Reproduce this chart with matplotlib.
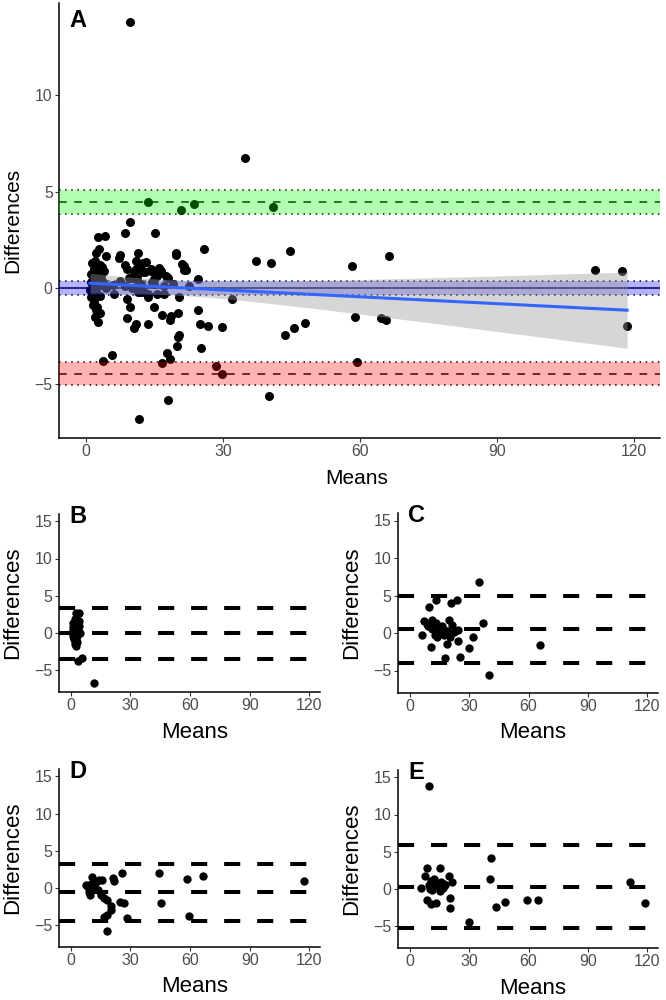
import numpy as np
import matplotlib
matplotlib.use("Agg")
import matplotlib.pyplot as plt

plt.rcParams['font.family'] = ['Liberation Sans', 'DejaVu Sans']

# ---------------- data ----------------
B_means = [2.7, 4.2, 2.3, 4.4, 2.0, 3.0, 1.8, 2.5, 3.5, 1.2, 2.1, 3.2, 1.0, 1.6, 2.6, 3.8, 0.9, 1.4,
           2.2, 3.0, 1.0, 1.8, 1.5, 2.4, 2.3, 3.0, 2.7, 2.0, 3.8, 5.7, 11.6, 1.3, 2.8, 4.0, 4.5]
B_diffs = [2.64, 2.67, 1.8, 1.63, 1.4, 1.2, 1.0, 0.9, 1.1, 0.7, 0.5, 0.6, 0.3, 0.2, 0.1, 0.3, -0.1, -0.3,
           -0.2, -0.4, -0.5, -0.7, -0.89, -1.0, -1.15, -1.3, -1.79, -1.5, -3.8, -3.47, -6.8, 1.3, 2.0, 0.9, 0.0]

C_means = [34.8, 13.5, 20.8, 23.7, 9.6, 37.2, 7.3, 11.5, 13.2, 19.8, 21.5, 14.8, 19.0, 24.5, 6.2, 12.8,
           11.0, 18.7, 24.5, 32.0, 29.9, 17.8, 25.3, 40.0, 65.7, 9.0, 10.5, 12.0, 14.2, 15.6, 16.5, 17.2,
           13.6, 15.0, 20.3, 11.2, 8.5, 22.5]
C_diffs = [6.77, 4.46, 4.06, 4.37, 3.42, 1.37, 1.56, 1.79, 1.34, 1.79, 1.12, 0.44, 0.22, 0.44, -0.32, -0.23,
           -1.88, -1.44, -1.13, -0.59, -2.02, -3.36, -3.14, -5.6, -1.66, 1.0, 0.8, 1.2, 0.9, 0.6, 0.9, -0.3,
           -0.5, 0.2, -0.5, 0.5, 1.2, 0.1]

D_means = [25.9, 44.6, 58.2, 66.4, 21.9, 21.0, 10.9, 15.9, 7.5, 9.7, 15.0, 16.7, 18.4, 20.4, 20.0, 25.0,
           26.7, 45.6, 16.7, 18.4, 28.4, 59.3, 18.0, 117.3, 8.5, 10.0, 11.5, 12.5, 13.5, 9.0, 12.0, 14.2]
D_diffs = [2.03, 1.94, 1.15, 1.63, 0.94, 1.25, 1.4, 1.04, 0.36, -0.99, -1.0, -1.43, -1.66, -2.47, -3.0, -1.9,
           -2.0, -2.08, -3.9, -3.7, -4.05, -3.87, -5.8, 0.9, 0.1, 0.5, 0.2, 0.8, -0.3, -0.6, -0.2, 1.0]

E_means = [41.0, 40.5, 8.5, 15.2, 7.5, 19.7, 21.4, 5.9, 8.9, 10.5, 13.5, 20.2, 20.2, 43.5, 48.0, 59.0,
           64.5, 29.9, 9.7, 111.4, 118.5, 9.5, 11.0, 12.0, 13.0, 14.5, 16.0, 17.0, 18.0, 11.5, 15.5, 12.5,
           17.5, 10.0]
E_diffs = [4.19, 1.27, 2.84, 2.84, 1.72, 1.72, 0.95, 0.14, -1.57, -2.1, -1.9, -1.3, -2.57, -2.43, -1.84, -1.53,
           -1.55, -4.45, 13.8, 0.95, -1.97, 0.5, 1.0, 0.2, 0.8, 0.3, 0.9, 0.1, 0.5, -0.2, -0.3, 1.3,
           0.6, 0.0]

# Panel A agreement limits: [estimate, ci_low, ci_high]
A_upper = [4.46, 3.84, 5.07]
A_bias = [-0.02, -0.36, 0.36]
A_lower = [-4.45, -5.05, -3.84]

# Sub-panel lines: [upper, bias, lower]
sub_labels = ['B', 'C', 'D', 'E']
sub_lines = {
    'B': [3.36, -0.09, -3.49],
    'C': [5.0, 0.54, -3.95],
    'D': [3.16, -0.63, -4.46],
    'E': [5.86, 0.27, -5.27],
}
sub_data = {'B': (B_means, B_diffs), 'C': (C_means, C_diffs),
            'D': (D_means, D_diffs), 'E': (E_means, E_diffs)}

x_ticks = [0, 30, 60, 90, 120]
A_yticks = [-5, 0, 5, 10]
sub_yticks = [-5, 0, 5, 10, 15]
x_title = 'Means'
y_title = 'Differences'

# ---------------- figure ----------------
W, H = 666, 1000
fig = plt.figure(figsize=(W / 100, H / 100), dpi=100)


def px_axes(l, t, r, b):
    return fig.add_axes([l / W, 1 - b / H, (r - l) / W, (b - t) / H])


def px_text(x, y, s, **kw):
    fig.text(x / W, 1 - y / H, s, ha='center', va='center', **kw)


def style(ax, tick_fs):
    for s in ['top', 'right']:
        ax.spines[s].set_visible(False)
    for s in ['left', 'bottom']:
        ax.spines[s].set_linewidth(1.1)
        ax.spines[s].set_color('black')
    ax.tick_params(length=2.6, width=0.8, color='#333333', labelcolor='#4D4D4D',
                   labelsize=tick_fs, pad=2)


TICK_A = 11.3
LAB_A = 15
TICK_S = 11.5
LAB_S = 16
PANEL_FS = 17

# ---- Panel A ----
axA = px_axes(59, 3, 660, 438)
all_m = np.array(B_means + C_means + D_means + E_means)
all_d = np.array(B_diffs + C_diffs + D_diffs + E_diffs)
axA.scatter(all_m, all_d, s=42, color='black', linewidths=0, zorder=2)

for est, lo, hi in (A_upper, A_lower):
    axA.axhline(est, color='black', lw=1.1, dashes=(5.0, 5.0), zorder=3)
    axA.axhline(lo, color='black', lw=1.1, dashes=(1.0, 3.0), zorder=3)
    axA.axhline(hi, color='black', lw=1.1, dashes=(1.0, 3.0), zorder=3)
axA.axhline(A_bias[0], color='black', lw=1.1, zorder=3)
axA.axhline(A_bias[1], color='black', lw=1.1, dashes=(1.0, 3.0), zorder=3)
axA.axhline(A_bias[2], color='black', lw=1.1, dashes=(1.0, 3.0), zorder=3)

axA.axhspan(A_upper[1], A_upper[2], color='#00FF00', alpha=0.3, lw=0, zorder=4)
axA.axhspan(A_bias[1], A_bias[2], color='#0000FF', alpha=0.3, lw=0, zorder=4)
axA.axhspan(A_lower[1], A_lower[2], color='#FF0000', alpha=0.3, lw=0, zorder=4)

# linear fit with 95% confidence band
slope, intercept = np.polyfit(all_m, all_d, 1)
n = len(all_m)
xs = np.linspace(all_m.min(), all_m.max(), 100)
resid = all_d - (intercept + slope * all_m)
s_res = np.sqrt(np.sum(resid ** 2) / (n - 2))
sxx = np.sum((all_m - all_m.mean()) ** 2)
se = s_res * np.sqrt(1.0 / n + (xs - all_m.mean()) ** 2 / sxx)
tcrit = 1.976
fit = intercept + slope * xs
axA.fill_between(xs, fit - tcrit * se, fit + tcrit * se, color='#999999', alpha=0.4, lw=0, zorder=5)
axA.plot(xs, fit, color='#3366FF', lw=2.2, zorder=6)

axA.set_xlim(-5.9, 125.7)
axA.set_ylim(-7.8, 14.8)
axA.set_xticks(x_ticks)
axA.set_yticks(A_yticks)
style(axA, TICK_A)
px_text(357, 479, x_title, fontsize=LAB_A)
px_text(13, 220, y_title, fontsize=LAB_A, rotation=90)
axA.text(0.018, 0.987, 'A', transform=axA.transAxes, fontsize=PANEL_FS, fontweight='bold',
         va='top', ha='left')

# ---- Sub panels ----
boxes = {
    'B': (59, 514, 320, 692),
    'C': (398, 513, 658, 693),
    'D': (59, 769, 320, 947),
    'E': (398, 770, 658, 948),
}
for lab in sub_labels:
    l, t, r, b = boxes[lab]
    ax = px_axes(l, t, r, b)
    m, d = sub_data[lab]
    ax.scatter(m, d, s=36, color='black', linewidths=0, zorder=2)
    for yv in sub_lines[lab]:
        ax.axhline(yv, color='black', lw=2.9, dashes=(4.0, 4.2), zorder=3)
    ax.set_xlim(-5.9, 125.3)
    ax.set_ylim(-8.0, 16.0)
    ax.set_xticks(x_ticks)
    ax.set_yticks(sub_yticks)
    style(ax, TICK_S)
    px_text((l + r) / 2 + 5, b + 40, x_title, fontsize=LAB_S)
    px_text(l - 46, (t + b) / 2, y_title, fontsize=LAB_S, rotation=90)
    ax.text(0.04, 1.05, lab, transform=ax.transAxes, fontsize=PANEL_FS, fontweight='bold',
            va='top', ha='left')

fig.savefig('out.png', dpi=100)
